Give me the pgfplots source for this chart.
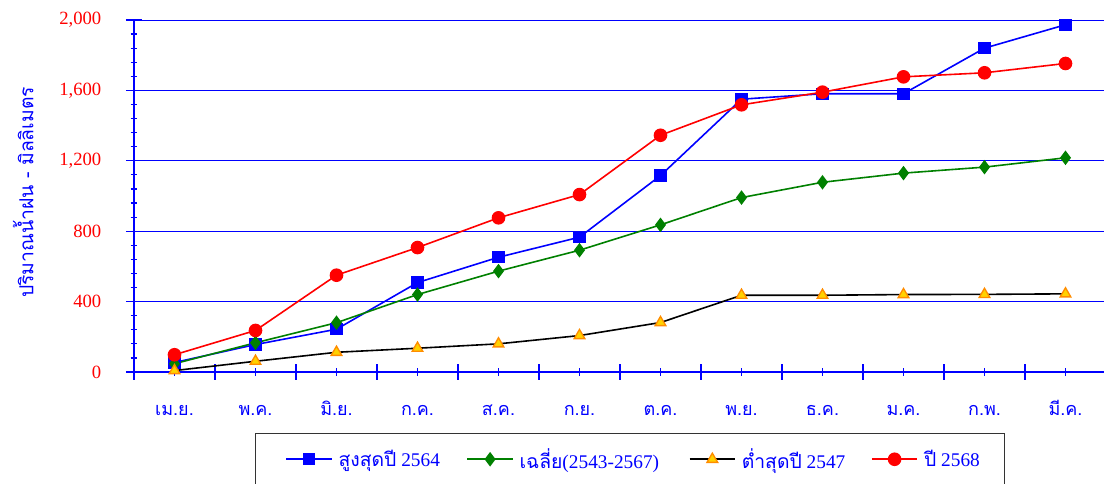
\documentclass[border=0pt]{standalone}
\usepackage{fontspec}
\setmainfont{Liberation Serif}
\newfontfamily\thaifont[Script=Thai]{Loma}
\usepackage{pgfplots}
\pgfplotsset{compat=1.18}

\definecolor{avggreen}{RGB}{0,128,0}
\definecolor{trifill}{RGB}{255,210,0}
\definecolor{triedge}{RGB}{255,140,0}

\begin{document}
\begin{tikzpicture}
\useasboundingbox (0,0) rectangle (828pt,363pt);
\begin{axis}[
  at={(100.5pt,84pt)}, anchor=south west,
  scale only axis, width=729pt, height=264pt,
  xmin=-0.5, xmax=11.5, ymin=0, ymax=2000,
  axis lines=left, axis line style={-, blue, line width=1.1pt},
  tick style={blue, line width=0.9pt},
  tick align=center, major tick length=12pt, minor tick length=5pt,
  ytick={0,400,...,2000}, minor y tick num=4,
  xtick={-0.5,0.5,...,11.5}, xticklabel=\empty,
  extra x ticks={0,1,...,11},
  extra x tick labels={เม.ย.,พ.ค.,มิ.ย.,ก.ค.,ส.ค.,ก.ย.,ต.ค.,พ.ย.,ธ.ค.,ม.ค.,ก.พ.,มี.ค.},
  extra x tick style={major tick length=6pt,
    xticklabel style={font=\thaifont\fontsize{13.5pt}{15pt}\selectfont, text=blue,
      text height=7.5pt, text depth=2pt, yshift=-18.5pt}},
  ymajorgrids, grid style={blue, line width=0.7pt},
  scaled y ticks=false,
  yticklabel style={text=red, font=\fontsize{14pt}{16pt}\selectfont, xshift=-15pt},
  /pgf/number format/1000 sep={,},
  /pgf/number format/assume math mode=true,
  ylabel={ปริมาณน้ำฝน - มิลลิเมตร},
  ylabel style={font=\thaifont\fontsize{14.5pt}{16pt}\selectfont, text=blue,
    at={(axis description cs:-0.114,0.51)}, anchor=center},
  legend columns=4,
  legend image code/.code={\draw[mark repeat=2,mark phase=2] plot coordinates {(0pt,0pt)(17pt,0pt)(34pt,0pt)};},
  legend style={at={(axis description cs:0.1245,-0.1733)}, anchor=north west,
    draw=black!80, line width=1pt, inner xsep=22.5pt, inner ysep=11pt,
    column sep=0pt, /tikz/every odd column/.append style={column sep=4.5pt},
    nodes={inner sep=0pt, text=blue, font=\fontsize{14.5pt}{16pt}\selectfont}},
]
\addplot[blue, line width=1.2pt, mark=square*, mark size=4pt, mark options={solid}] coordinates {
  (0,54) (1,156) (2,243) (3,508) (4,652) (5,766) (6,1116) (7,1550) (8,1581) (9,1581) (10,1840) (11,1973)
};
\addlegendentry{\makebox[96pt][l]{{\thaifont สูงสุดปี} 2564}}
\addplot[avggreen, line width=1.2pt, mark=diamond*, mark size=4.5pt, mark options={solid}] coordinates {
  (0,47) (1,166) (2,280) (3,440) (4,573) (5,692) (6,836) (7,991) (8,1078) (9,1130) (10,1164) (11,1217)
};
\addlegendentry{\makebox[127pt][l]{{\thaifont เฉลี่ย}(2543-2567)}}
\addplot[black, line width=1.2pt, mark=triangle*, mark size=4.6pt, mark options={solid, fill=trifill, draw=triedge, line width=1pt}] coordinates {
  (0,8) (1,61) (2,112) (3,135) (4,160) (5,207) (6,281) (7,436) (8,436) (9,440) (10,441) (11,444)
};
\addlegendentry{\makebox[97pt][l]{{\thaifont ต่ำสุดปี} 2547}}
\addplot[red, line width=1.2pt, mark=*, mark size=4.5pt, mark options={solid}] coordinates {
  (0,98) (1,236) (2,550) (3,707) (4,876) (5,1008) (6,1345) (7,1518) (8,1590) (9,1677) (10,1700) (11,1753)
};
\addlegendentry{\makebox[38pt][l]{{\thaifont ปี} 2568}}
\end{axis}
\end{tikzpicture}
\end{document}
